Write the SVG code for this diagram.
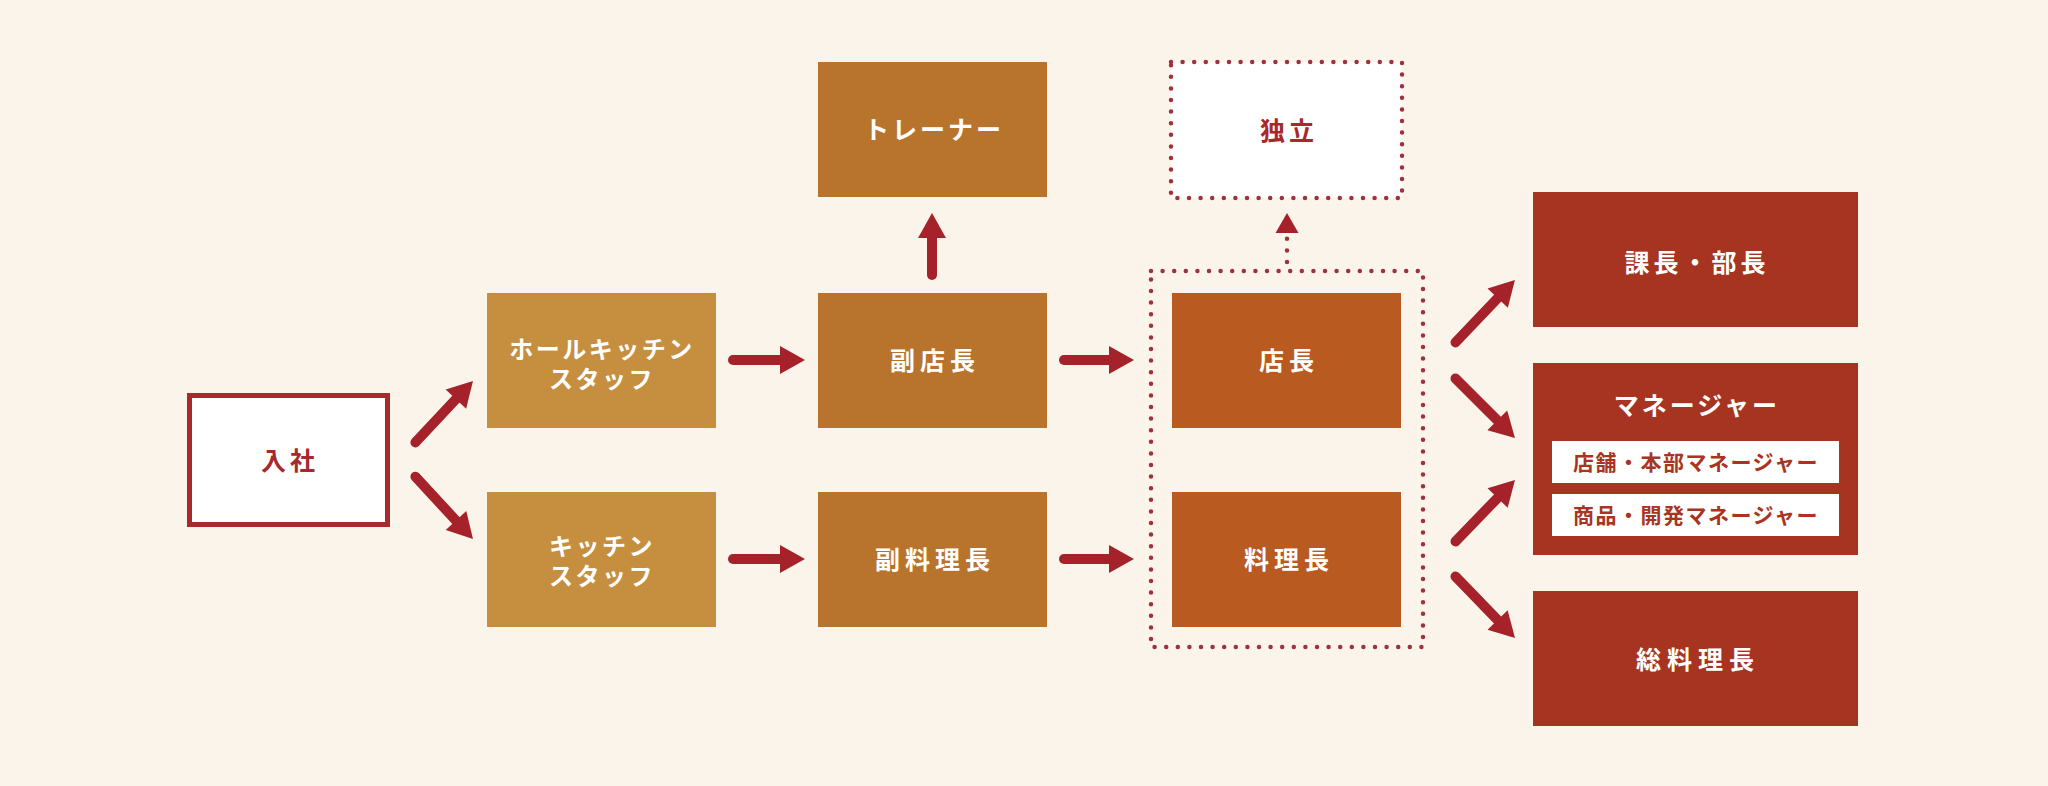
<svg xmlns="http://www.w3.org/2000/svg" width="2048" height="786" viewBox="0 0 2048 786">
<style>
.t{font-family:"Noto Sans CJK JP","Noto Sans CJK SC",sans-serif;font-weight:700;text-anchor:middle}
.w{fill:#ffffff;font-size:25px;letter-spacing:3px}
.r{fill:#a8282b;font-size:25px;letter-spacing:4px}
.s{fill:#a83421;font-size:21px;letter-spacing:1.5px}
.m{font-size:24px;letter-spacing:2.5px}
.c1{fill:#c68f3f}
.c2{fill:#b8742d}
.c3{fill:#b95a20}
.c4{fill:#a73421}
.arr{stroke:#a5222a;stroke-width:10;stroke-linecap:round;fill:none;marker-end:url(#ah)}
.dot{stroke:#a0303c;stroke-width:4.5;stroke-linecap:round;stroke-dasharray:0 11.6;fill:none}
</style>
<defs>
<marker id="ah" markerUnits="userSpaceOnUse" markerWidth="27" markerHeight="30" viewBox="0 -15 27 30" refX="0" refY="0" orient="auto" overflow="visible">
<path d="M0,-14 L25,0 L0,14 Z" fill="#a5222a"/>
</marker>
</defs>
<rect width="2048" height="786" fill="#fbf4ea"/>

<g id="connectors">
<line class="arr" x1="415.4" y1="442.4" x2="455.9" y2="399.2"/>
<line class="arr" x1="415.4" y1="476.7" x2="456" y2="520.6"/>
<line class="arr" x1="733" y1="360" x2="780" y2="360"/>
<line class="arr" x1="733" y1="559" x2="780" y2="559"/>
<line class="arr" x1="932" y1="275" x2="932" y2="238"/>
<line class="arr" x1="1064" y1="360" x2="1109" y2="360"/>
<line class="arr" x1="1064" y1="559" x2="1109" y2="559"/>
<path class="dot" d="M1287,262 L1287,238"/>
<polygon points="1287,213 1298.5,233 1275.5,233" fill="#a5222a"/>
<line class="arr" x1="1455.5" y1="342.4" x2="1497.7" y2="298.1"/>
<line class="arr" x1="1455.5" y1="378.5" x2="1497.3" y2="420.3"/>
<line class="arr" x1="1455.5" y1="541.4" x2="1497.6" y2="497.9"/>
<line class="arr" x1="1455.5" y1="576.6" x2="1497.6" y2="620.1"/>
</g>

<g id="group-dotted">
<rect class="dot" x="1151" y="271" width="272" height="376"/>
</g>

<g id="node-nyusha">
<rect x="189.5" y="395.5" width="198" height="129" fill="#ffffff" stroke="#a8292b" stroke-width="5"/>
<text class="t r" x="290" y="470">入社</text>
</g>

<g id="node-hall">
<rect class="c1" x="487" y="293" width="229" height="135"/>
<text class="t w m"><tspan x="602" y="358">ホールキッチン</tspan><tspan x="602" y="388">スタッフ</tspan></text>
</g>

<g id="node-kitchen">
<rect class="c1" x="487" y="492" width="229" height="135"/>
<text class="t w m"><tspan x="602" y="555">キッチン</tspan><tspan x="602" y="585">スタッフ</tspan></text>
</g>

<g id="node-trainer">
<rect class="c2" x="818" y="62" width="229" height="135"/>
<text class="t w" x="934" y="139">トレーナー</text>
</g>

<g id="node-fukutencho">
<rect class="c2" x="818" y="293" width="229" height="135"/>
<text class="t w" x="935" y="370" style="letter-spacing:5px">副店長</text>
</g>

<g id="node-fukuryoricho">
<rect class="c2" x="818" y="492" width="229" height="135"/>
<text class="t w" x="935" y="569" style="letter-spacing:5px">副料理長</text>
</g>

<g id="node-dokuritsu">
<rect x="1171" y="62" width="231" height="136" fill="#ffffff"/>
<rect class="dot" x="1171" y="62" width="231" height="136"/>
<text class="t r" x="1289" y="140">独立</text>
</g>

<g id="node-tencho">
<rect class="c3" x="1172" y="293" width="229" height="135"/>
<text class="t w" x="1289" y="370" style="letter-spacing:5px">店長</text>
</g>

<g id="node-ryoricho">
<rect class="c3" x="1172" y="492" width="229" height="135"/>
<text class="t w" x="1289" y="569" style="letter-spacing:5px">料理長</text>
</g>

<g id="node-kacho">
<rect class="c4" x="1533" y="192" width="325" height="135"/>
<text class="t w" x="1697" y="272" style="letter-spacing:4px">課長・部長</text>
</g>

<g id="node-manager">
<rect class="c4" x="1533" y="363" width="325" height="192"/>
<text class="t w" x="1697" y="415">マネージャー</text>
<rect x="1552" y="441" width="287" height="42" fill="#ffffff"/>
<text class="t s" x="1696" y="470">店舗・本部マネージャー</text>
<rect x="1552" y="494" width="287" height="42" fill="#ffffff"/>
<text class="t s" x="1696" y="523">商品・開発マネージャー</text>
</g>

<g id="node-soryoricho">
<rect class="c4" x="1533" y="591" width="325" height="135"/>
<text class="t w" x="1698" y="669" style="letter-spacing:6px">総料理長</text>
</g>
</svg>
